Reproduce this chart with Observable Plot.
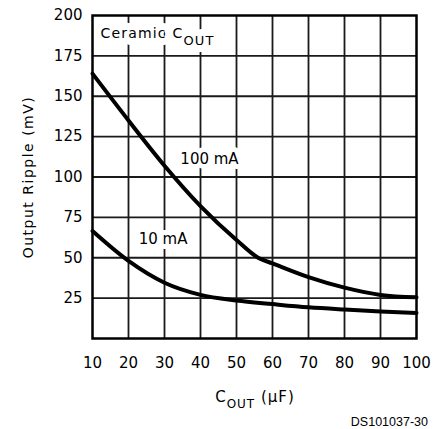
<!DOCTYPE html>
<html>
<head>
<meta charset="utf-8">
<script src="https://cdn.jsdelivr.net/npm/d3@7"></script>
<script src="https://cdn.jsdelivr.net/npm/@observablehq/plot@0.6"></script>
<style>
  html, body { margin: 0; padding: 0; background: white; }
  #chart { width: 439px; height: 429px; }
</style>
</head>
<body>
<div id="chart"></div>
<script>
// --- data ---
const xTicks = [10, 20, 30, 40, 50, 60, 70, 80, 90, 100];
const yTicks = [25, 50, 75, 100, 125, 150, 175, 200];
const xGrid = [20, 30, 40, 50, 60, 70, 80, 90];
const yGrid = [25, 50, 75, 100, 125, 150, 175];

const cout100 = [10, 20, 30, 40, 50, 56, 60, 70, 80, 90, 100];
const ripple100 = [164, 135, 107, 82, 61, 50, 46.5, 38, 31.5, 27, 25.5];
const cout10 = [10, 20, 30, 40, 50, 60, 70, 80, 90, 100];
const ripple10 = [66.5, 48, 34.5, 27, 23.5, 21.3, 19.3, 17.9, 16.7, 15.8];

const labelText = ["100 mA", "10 mA"];
const labelX = [42.5, 29.6];
const labelY = [110.8, 61.3];
const titleText = ["Ceramic C"];
const titleX = [12.2];
const titleY = [189];

const series100 = cout100.map((c, i) => ({c, r: ripple100[i]}));
const series10 = cout10.map((c, i) => ({c, r: ripple10[i]}));
const labels = labelText.map((t, i) => ({t, x: labelX[i], y: labelY[i]}));
const titles = titleText.map((t, i) => ({t, x: titleX[i], y: titleY[i]}));

const gridStyle = {stroke: "#1a1a1a", strokeOpacity: 1, strokeWidth: 1.8};

const chart = Plot.plot({
  width: 439,
  height: 429,
  marginLeft: 92,
  marginRight: 23,
  marginTop: 15,
  marginBottom: 91,
  style: {fontFamily: "DejaVu Sans", fontSize: "15px", color: "black", background: "white"},
  x: {domain: [10, 100], ticks: xTicks, tickSize: 0, tickPadding: 19, label: null},
  y: {domain: [0, 200], ticks: yTicks, tickSize: 0, tickPadding: 10, label: null},
  marks: [
    Plot.gridX(xGrid, gridStyle),
    Plot.gridY(yGrid, gridStyle),
    Plot.text(labels, {x: "x", y: "y", text: "t", fill: "black", stroke: "white", strokeWidth: 10, fontSize: 15}),
    // halo behind title, then the title itself
    Plot.text(titles, {x: "x", y: "y", text: "t", textAnchor: "start", fill: "white", stroke: "white", strokeWidth: 14, fontSize: 14}),
    Plot.text(titles, {x: "x", y: "y", text: "t", textAnchor: "start", fill: "black", fontSize: 14}),
    Plot.line(series100, {x: "c", y: "r", curve: "monotone-x", stroke: "black", strokeWidth: 4}),
    Plot.line(series10, {x: "c", y: "r", curve: "monotone-x", stroke: "black", strokeWidth: 4}),
    Plot.frame({stroke: "black", strokeWidth: 2.5})
  ]
});
document.getElementById("chart").appendChild(chart);

const svg = d3.select(chart);
// subscript on the in-plot title (both halo and text copies)
svg.selectAll("text").filter(function() { return this.textContent === "Ceramic C"; })
  .style("letter-spacing", "1.2px")
  .append("tspan").attr("dy", 7).attr("font-size", 13).text("OUT");

// y axis label
svg.append("text")
  .attr("transform", "translate(33,177) rotate(-90)")
  .attr("text-anchor", "middle")
  .attr("font-family", "DejaVu Sans")
  .attr("font-size", 14)
  .style("letter-spacing", "1.5px")
  .attr("fill", "black")
  .text("Output Ripple (mV)");

// x axis label with subscript
const xl = svg.append("text")
  .attr("x", 255).attr("y", 402)
  .attr("text-anchor", "middle")
  .attr("font-family", "DejaVu Sans")
  .attr("font-size", 15)
  .style("letter-spacing", "1px")
  .attr("fill", "black");
xl.append("tspan").text("C");
xl.append("tspan").attr("dy", 6).attr("font-size", 12).text("OUT");
xl.append("tspan").attr("dy", -6).text(" (µF)");

// figure id
svg.append("text")
  .attr("x", 428).attr("y", 426)
  .attr("text-anchor", "end")
  .attr("font-family", "Liberation Sans")
  .attr("font-size", 12.5)
  .attr("fill", "black")
  .text("DS101037-30");
</script>
</body>
</html>
